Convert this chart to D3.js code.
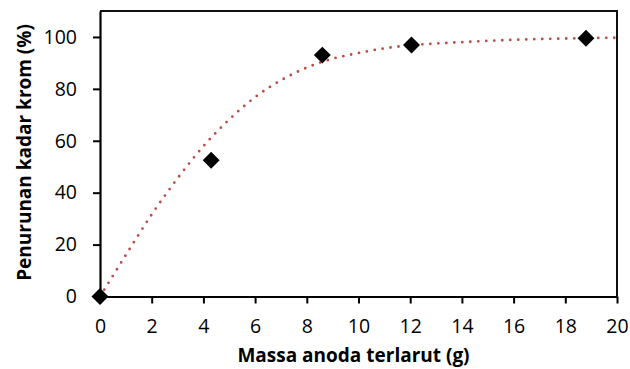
<!DOCTYPE html>
<html>
<head>
<meta charset="utf-8">
<script src="https://cdn.jsdelivr.net/npm/d3@7"></script>
<style>
  html, body { margin: 0; padding: 0; background: #fff; }
  svg { display: block; font-family: "Open Sans", sans-serif; }
</style>
</head>
<body>
<div id="chart"></div>
<script>
// measured points
var massa = [0, 4.3, 8.6, 12.05, 18.8];
var penurunan = [0, 52.5, 93, 96.9, 99.5];

// trendline
var trendX = [0, 1, 2, 3, 4, 5, 6, 7, 8, 9, 10, 11, 12, 13, 14, 16, 18, 20];
var trendY = [0, 16, 31.6, 45.5, 57.9, 68.2, 76.8, 83.3, 88.2, 91.6, 93.8, 95.6, 96.8, 97.5, 98.0, 98.9, 99.4, 99.7];

var xTicks = [0, 2, 4, 6, 8, 10, 12, 14, 16, 18, 20];
var yTicks = [0, 20, 40, 60, 80, 100];

var width = 630, height = 369;
var margin = { top: 11, right: 13, bottom: 72.5, left: 100 };

var svg = d3.select("#chart").append("svg")
  .attr("width", width)
  .attr("height", height);

var x = d3.scaleLinear().domain([0, 20]).range([margin.left, width - margin.right]);
var y = d3.scaleLinear().domain([0, 110]).range([height - margin.bottom, margin.top]);

// frame (top + right)
svg.append("path")
  .attr("d", "M" + x(0) + "," + y(110) + "H" + x(20) + "V" + y(0))
  .attr("fill", "none")
  .attr("stroke", "#111")
  .attr("stroke-width", 2);

// x axis
var gx = svg.append("g")
  .attr("transform", "translate(0," + y(0) + ")")
  .call(d3.axisBottom(x).tickValues(xTicks).tickSize(7).tickSizeOuter(0).tickPadding(16));

// y axis
var gy = svg.append("g")
  .attr("transform", "translate(" + x(0) + ",0)")
  .call(d3.axisLeft(y).tickValues(yTicks).tickSize(7).tickSizeOuter(0).tickPadding(16));

[gx, gy].forEach(function (g) {
  g.select(".domain").attr("stroke", "#000").attr("stroke-width", 2.2);
  g.selectAll(".tick line").attr("stroke", "#000").attr("stroke-width", 2);
  g.selectAll(".tick text")
    .attr("fill", "#000")
    .style("font-family", "'Open Sans', sans-serif")
    .style("font-size", "19.5px");
});

// trendline, dotted
var line = d3.line()
  .x(function (d) { return x(d[0]); })
  .y(function (d) { return y(d[1]); })
  .curve(d3.curveMonotoneX);

svg.append("path")
  .datum(d3.zip(trendX, trendY))
  .attr("d", line)
  .attr("fill", "none")
  .attr("stroke", "#BE4B48")
  .attr("stroke-width", 2.8)
  .attr("stroke-linecap", "round")
  .attr("stroke-dasharray", "0,8");

// diamonds
svg.selectAll(".pt")
  .data(d3.zip(massa, penurunan))
  .enter().append("path")
  .attr("class", "pt")
  .attr("d", d3.symbol().type(d3.symbolSquare).size(144))
  .attr("transform", function (d) { return "translate(" + x(d[0]) + "," + y(d[1]) + ") rotate(45)"; })
  .attr("fill", "#000");

// axis titles
svg.append("text")
  .attr("x", 353.5)
  .attr("y", 362)
  .attr("text-anchor", "middle")
  .style("font-weight", "bold")
  .style("font-size", "19px")
  .text("Massa anoda terlarut (g)");

svg.append("text")
  .attr("transform", "translate(31,152.5) rotate(-90)")
  .attr("text-anchor", "middle")
  .style("font-weight", "bold")
  .style("font-size", "19px")
  .text("Penurunan kadar krom (%)");
</script>
</body>
</html>
